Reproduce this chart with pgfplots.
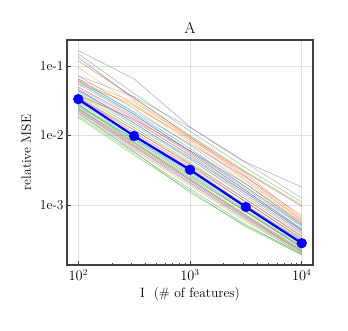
\documentclass[border=0pt]{standalone}
\usepackage{pgfplots}
\pgfplotsset{compat=1.18}
\definecolor{tb}{HTML}{1F77B4}
\definecolor{to}{HTML}{FF7F0E}
\definecolor{tg}{HTML}{2CA02C}
\definecolor{tr}{HTML}{D62728}
\definecolor{tp}{HTML}{9467BD}
\definecolor{tbr}{HTML}{8C564B}
\definecolor{tpk}{HTML}{E377C2}
\definecolor{tgy}{HTML}{7F7F7F}
\definecolor{tol}{HTML}{BCBD22}
\definecolor{tc}{HTML}{17BECF}
\begin{document}
\begin{tikzpicture}
\useasboundingbox (-67pt,-66pt) rectangle (281pt,265pt);
\begin{axis}[
  scale only axis, width=246pt, height=225pt,
  xmode=log, ymode=log,
  xmin=79.3, xmax=12620, ymin=1.36e-4, ymax=0.236,
  axis line style={draw=black!75, line width=1.1pt},
  tick align=inside, tick pos=left,
  major tick length=4pt, minor tick length=2pt,
  every tick/.style={black!75, line width=0.6pt},
  grid=major, major grid style={black!12, line width=0.6pt},
  xtick={100,1000,10000},
  ytick={0.1,0.01,0.001}, yticklabels={1e-1,1e-2,1e-3},
  tick label style={font=\fontsize{13.5}{15}\selectfont},
  label style={font=\fontsize{13.5}{15}\selectfont},
  xticklabel style={yshift=-1pt},
  ylabel style={yshift=2pt},
  title={A}, title style={font=\fontsize{16}{18}\selectfont, yshift=-3pt},
  ylabel={relative MSE},
  xlabel={I\ \ (\# of features)},
  every axis plot/.append style={line width=0.5pt, opacity=0.55},
]
\addplot[tbr] coordinates {(100,0.166)(316,0.065)(1000,0.0132)(3162,0.0041)(10000,0.0018)};
\addplot[tp] coordinates {(100,0.072)(316,0.036)(1000,0.013)(3162,0.0040)(10000,0.00125)};
\addplot[tg] coordinates {(100,0.150)(316,0.040)(1000,0.0115)(3162,0.0034)(10000,0.00110)};
\addplot[tr] coordinates {(100,0.118)(316,0.035)(1000,0.0095)(3162,0.0029)(10000,0.00095)};
\addplot[to] coordinates {(100,0.065)(316,0.030)(1000,0.0095)(3162,0.0026)(10000,0.00062)};
\addplot[tg] coordinates {(100,0.130)(316,0.034)(1000,0.0100)(3162,0.0030)(10000,0.00100)};
\addplot[tol] coordinates {(100,0.095)(316,0.027)(1000,0.0080)(3162,0.0022)(10000,0.00055)};
\addplot[tpk] coordinates {(100,0.140)(316,0.032)(1000,0.0090)(3162,0.0025)(10000,0.00058)};
\addplot[tgy] coordinates {(100,0.072)(316,0.024)(1000,0.0072)(3162,0.0020)(10000,0.00052)};
\addplot[tc] coordinates {(100,0.058)(316,0.020)(1000,0.0060)(3162,0.0017)(10000,0.00048)};
\addplot[tb] coordinates {(100,0.060)(316,0.020)(1000,0.0058)(3162,0.0016)(10000,0.00045)};
\addplot[to] coordinates {(100,0.055)(316,0.028)(1000,0.0085)(3162,0.0023)(10000,0.00060)};
\addplot[tr] coordinates {(100,0.050)(316,0.018)(1000,0.0055)(3162,0.0016)(10000,0.00044)};
\addplot[tp] coordinates {(100,0.062)(316,0.022)(1000,0.0075)(3162,0.0025)(10000,0.00070)};
\addplot[tbr] coordinates {(100,0.045)(316,0.016)(1000,0.0052)(3162,0.0015)(10000,0.00042)};
\addplot[tpk] coordinates {(100,0.048)(316,0.017)(1000,0.0050)(3162,0.0014)(10000,0.00040)};
\addplot[tgy] coordinates {(100,0.046)(316,0.015)(1000,0.0046)(3162,0.0013)(10000,0.00038)};
\addplot[tol] coordinates {(100,0.040)(316,0.013)(1000,0.0042)(3162,0.0012)(10000,0.00035)};
\addplot[tc] coordinates {(100,0.042)(316,0.014)(1000,0.0045)(3162,0.0014)(10000,0.00040)};
\addplot[tb] coordinates {(100,0.044)(316,0.015)(1000,0.0048)(3162,0.0015)(10000,0.00043)};
\addplot[to] coordinates {(100,0.038)(316,0.013)(1000,0.0040)(3162,0.0012)(10000,0.00036)};
\addplot[tg] coordinates {(100,0.036)(316,0.012)(1000,0.0038)(3162,0.0011)(10000,0.00033)};
\addplot[tr] coordinates {(100,0.035)(316,0.011)(1000,0.0036)(3162,0.0011)(10000,0.00032)};
\addplot[tp] coordinates {(100,0.034)(316,0.012)(1000,0.0039)(3162,0.0012)(10000,0.00035)};
\addplot[tbr] coordinates {(100,0.032)(316,0.010)(1000,0.0033)(3162,0.00098)(10000,0.00030)};
\addplot[tpk] coordinates {(100,0.031)(316,0.0105)(1000,0.0034)(3162,0.0010)(10000,0.00031)};
\addplot[tgy] coordinates {(100,0.030)(316,0.0095)(1000,0.0030)(3162,0.00090)(10000,0.00027)};
\addplot[tol] coordinates {(100,0.029)(316,0.0090)(1000,0.0029)(3162,0.00085)(10000,0.00026)};
\addplot[tc] coordinates {(100,0.028)(316,0.0088)(1000,0.0028)(3162,0.00083)(10000,0.00025)};
\addplot[tb] coordinates {(100,0.027)(316,0.0085)(1000,0.0027)(3162,0.00080)(10000,0.00025)};
\addplot[to] coordinates {(100,0.026)(316,0.0080)(1000,0.0026)(3162,0.00078)(10000,0.00024)};
\addplot[tg] coordinates {(100,0.025)(316,0.0075)(1000,0.0024)(3162,0.00072)(10000,0.00023)};
\addplot[tr] coordinates {(100,0.024)(316,0.0072)(1000,0.0023)(3162,0.00070)(10000,0.00022)};
\addplot[tp] coordinates {(100,0.023)(316,0.0070)(1000,0.0022)(3162,0.00066)(10000,0.00022)};
\addplot[tbr] coordinates {(100,0.0225)(316,0.0068)(1000,0.0021)(3162,0.00064)(10000,0.00021)};
\addplot[tpk] coordinates {(100,0.022)(316,0.0066)(1000,0.0021)(3162,0.00062)(10000,0.00021)};
\addplot[tgy] coordinates {(100,0.021)(316,0.0063)(1000,0.0020)(3162,0.00060)(10000,0.00020)};
\addplot[tol] coordinates {(100,0.020)(316,0.0060)(1000,0.0019)(3162,0.00057)(10000,0.00020)};
\addplot[tg] coordinates {(100,0.019)(316,0.0056)(1000,0.0017)(3162,0.00052)(10000,0.00019)};
\addplot[tg] coordinates {(100,0.018)(316,0.0052)(1000,0.0016)(3162,0.00048)(10000,0.00019)};
\addplot[tg] coordinates {(100,0.021)(316,0.0058)(1000,0.0015)(3162,0.00050)(10000,0.00020)};
\addplot[tc] coordinates {(100,0.026)(316,0.0090)(1000,0.0030)(3162,0.00095)(10000,0.00030)};
\addplot[tb] coordinates {(100,0.065)(316,0.021)(1000,0.0065)(3162,0.0018)(10000,0.00050)};
\addplot[to] coordinates {(100,0.062)(316,0.026)(1000,0.0090)(3162,0.0028)(10000,0.00065)};
\addplot[tg] coordinates {(100,0.024)(316,0.0078)(1000,0.0025)(3162,0.00080)(10000,0.00024)};
\addplot[tr] coordinates {(100,0.038)(316,0.017)(1000,0.0060)(3162,0.0020)(10000,0.00055)};
\addplot[tgy] coordinates {(100,0.055)(316,0.019)(1000,0.0060)(3162,0.0018)(10000,0.00052)};
\addplot[tg] coordinates {(100,0.028)(316,0.0080)(1000,0.0023)(3162,0.00068)(10000,0.00021)};
\addplot[blue, line width=2.2pt, opacity=1, mark=*, mark size=4pt] coordinates {(100,0.0332)(316,0.0098)(1000,0.0032)(3162,0.00093)(10000,0.00028)};
\end{axis}
\end{tikzpicture}
\end{document}
